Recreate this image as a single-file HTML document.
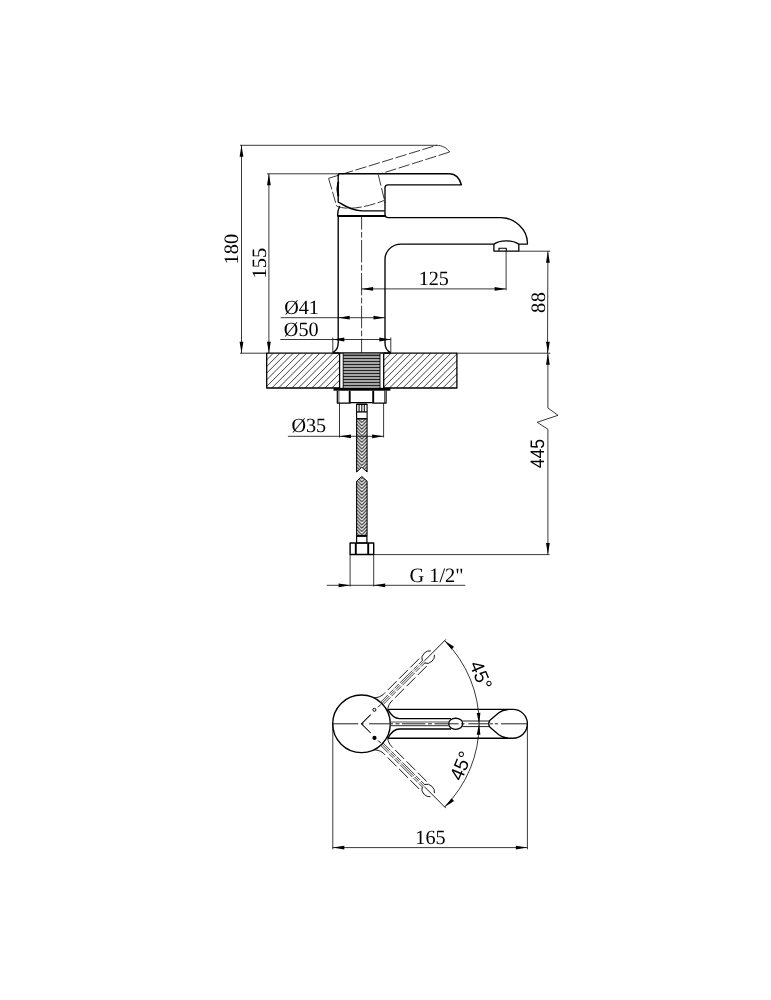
<!DOCTYPE html>
<html lang="en">
<head>
<meta charset="utf-8">
<title>Faucet dimensions drawing</title>
<style>
html,body{margin:0;padding:0;background:#fff;}
body{width:771px;height:1000px;overflow:hidden;}
svg{display:block;filter:blur(0.45px);}
text{text-rendering:geometricPrecision;}
</style>
</head>
<body>
<svg width="771" height="1000" viewBox="0 0 771 1000" fill="none" stroke="#000" stroke-linecap="butt" stroke-linejoin="round">
<defs>
<clipPath id="cl"><rect x="266.7" y="353.2" width="72.8" height="34.8"/></clipPath>
<clipPath id="cr"><rect x="383.8" y="353.2" width="73.1" height="34.8"/></clipPath>
<pattern id="braid" width="10.5" height="3.3" patternUnits="userSpaceOnUse" x="356.6" y="419"><rect x="0" y="0" width="10.5" height="3.3" fill="#222" stroke="none"/><path d="M0,-9.90 L5.25,-4.65 L10.5,-9.90 M0,-6.60 L5.25,-1.35 L10.5,-6.60 M0,-3.30 L5.25,1.95 L10.5,-3.30 M0,0.00 L5.25,5.25 L10.5,0.00 M0,3.30 L5.25,8.55 L10.5,3.30 M0,6.60 L5.25,11.85 L10.5,6.60 " stroke="#fff" stroke-width="1.25" fill="none" stroke-linejoin="miter"/></pattern>
</defs>
<line x1="240.00" y1="145.30" x2="437.00" y2="145.30" stroke-width="0.78" />
<line x1="267.00" y1="173.80" x2="338.20" y2="173.80" stroke-width="0.78" />
<line x1="240.00" y1="353.20" x2="266.70" y2="353.20" stroke-width="0.78" />
<line x1="241.50" y1="145.30" x2="241.50" y2="353.20" stroke-width="0.78" />
<line x1="268.90" y1="173.80" x2="268.90" y2="353.20" stroke-width="0.78" />
<polygon points="241.50,145.30 243.40,156.80 239.60,156.80" fill="#000" stroke="none"/>
<polygon points="241.50,353.20 239.60,341.70 243.40,341.70" fill="#000" stroke="none"/>
<polygon points="268.90,173.80 270.80,185.30 267.00,185.30" fill="#000" stroke="none"/>
<polygon points="268.90,353.20 267.00,341.70 270.80,341.70" fill="#000" stroke="none"/>
<text x="238.30" y="249.20" font-size="20.4" text-anchor="middle" font-family='"Liberation Serif", serif' fill="#000" stroke="none" transform="rotate(-90 238.30 249.20)" >180</text>
<text x="265.80" y="263.20" font-size="20.4" text-anchor="middle" font-family='"Liberation Serif", serif' fill="#000" stroke="none" transform="rotate(-90 265.80 263.20)" >155</text>
<path d="M328.6,178.3 L436.7,145.3" stroke-width="0.78" stroke-dasharray="11.5 2.5"/>
<path d="M436.7,145.3 C442,145.3 447,148 449.6,152" stroke-width="0.78" />
<path d="M449.6,152 L380.3,173.9" stroke-width="0.78" stroke-dasharray="11.5 2.5"/>
<path d="M378.2,174.5 L385.2,203" stroke-width="0.78" stroke-dasharray="11.5 2.5"/>
<path d="M328.6,178.3 L336.6,206" stroke-width="0.78" stroke-dasharray="11.5 2.5"/>
<path d="M336.6,206 C345,209.6 360,209.6 384.4,200.4" stroke-width="0.78" stroke-dasharray="11.5 2.5"/>
<path d="M338.2,173.7 L449.6,173.7 C455.5,173.7 459.5,178 461.4,184.8 L388,184.8 Q385,184.8 385,187.8 L385,214.6 Q385,217.6 388,217.6 L500.9,217.6 C514.6,217.6 527.4,229.6 527.4,242.8 L527.4,244.1 L518.8,244.1" stroke-width="1.35" />
<path d="M338.2,173.7 L338.2,202 C345,206 352,210.8 361.5,210.8 L384.6,210.8" stroke-width="1.35" />
<path d="M338.3,182 C337.3,186 337.3,192 338.3,196" stroke-width="2" />
<path d="M339.6,206 C338.3,209 337.6,212 337.6,216" stroke-width="1.35" />
<path d="M337.4,216 L385,216" stroke-width="2.0" />
<path d="M338.2,216 L338.2,343 C338.2,348 336,351 332.8,352.6" stroke-width="1.35" />
<path d="M493.9,244.1 L401,244.1 C392,244.1 385,251 385,259.5 L385,343 C385,348 387.2,351 390.6,352.6" stroke-width="1.35" />
<path d="M493.9,244.1 L493.9,251.1 L518.8,251.1 L518.8,244.1 M493.9,244.3 C499,239.6 513.5,239.6 518.8,244.3" stroke-width="1.3" />
<path d="M499,251.1 L499,248.3 L506.3,248.3 L506.3,251.1" stroke-width="1.1" />
<line x1="361.60" y1="216.70" x2="361.60" y2="352.60" stroke-width="0.78" stroke-dasharray="22.5 2.3 5.7 2.35" stroke-dashoffset="9.5"/>
<line x1="361.60" y1="288.90" x2="506.10" y2="288.90" stroke-width="0.78" />
<line x1="506.10" y1="251.10" x2="506.10" y2="290.30" stroke-width="0.78" />
<polygon points="361.60,288.90 373.10,287.00 373.10,290.80" fill="#000" stroke="none"/>
<polygon points="506.10,288.90 494.60,290.80 494.60,287.00" fill="#000" stroke="none"/>
<text x="433.80" y="285.40" font-size="20.2" text-anchor="middle" font-family='"Liberation Serif", serif' fill="#000" stroke="none" >125</text>
<line x1="518.80" y1="251.20" x2="550.30" y2="251.20" stroke-width="0.78" />
<line x1="456.90" y1="353.20" x2="550.30" y2="353.20" stroke-width="0.78" />
<line x1="547.90" y1="251.20" x2="547.50" y2="353.20" stroke-width="0.78" />
<polygon points="547.90,251.20 549.80,262.70 546.00,262.70" fill="#000" stroke="none"/>
<polygon points="547.90,353.20 546.00,341.70 549.80,341.70" fill="#000" stroke="none"/>
<text x="545.50" y="302.20" font-size="20.4" text-anchor="middle" font-family='"Liberation Serif", serif' fill="#000" stroke="none" transform="rotate(-90 545.50 302.20)" letter-spacing="0.6">88</text>
<path d="M547.9,353.2 L547.9,408 L558,415.3 L537.2,422.3 L547.9,429.2 L547.9,554.6" stroke-width="0.78" />
<polygon points="547.90,353.20 549.80,364.70 546.00,364.70" fill="#000" stroke="none"/>
<polygon points="547.90,554.60 546.00,543.10 549.80,543.10" fill="#000" stroke="none"/>
<line x1="373.70" y1="554.60" x2="549.50" y2="554.60" stroke-width="0.78" />
<text x="543.90" y="453.70" font-size="19.5" text-anchor="middle" font-family='"Liberation Sans", sans-serif' fill="#000" stroke="none" transform="rotate(-90 543.90 453.70)" textLength="29.3" lengthAdjust="spacingAndGlyphs">445</text>
<line x1="280.70" y1="317.70" x2="385.00" y2="317.70" stroke-width="0.78" />
<polygon points="338.20,317.70 349.70,315.80 349.70,319.60" fill="#000" stroke="none"/>
<polygon points="385.00,317.70 373.50,319.60 373.50,315.80" fill="#000" stroke="none"/>
<line x1="280.30" y1="339.50" x2="390.80" y2="339.50" stroke-width="0.78" />
<polygon points="332.80,339.50 344.30,337.60 344.30,341.40" fill="#000" stroke="none"/>
<polygon points="390.80,339.50 379.30,341.40 379.30,337.60" fill="#000" stroke="none"/>
<line x1="332.80" y1="337.50" x2="332.80" y2="352.50" stroke-width="0.78" />
<line x1="390.80" y1="337.50" x2="390.80" y2="352.50" stroke-width="0.78" />
<text x="284.20" y="314.30" font-size="20.2" text-anchor="start" font-family='"Liberation Serif", serif' fill="#000" stroke="none" >Ø41</text>
<text x="283.80" y="335.90" font-size="20.2" text-anchor="start" font-family='"Liberation Serif", serif' fill="#000" stroke="none" >Ø50</text>
<g clip-path="url(#cl)" stroke-width="0.75">
<line x1="259.98" y1="353.2" x2="225.18" y2="388"/>
<line x1="266.64" y1="353.2" x2="231.84" y2="388"/>
<line x1="273.30" y1="353.2" x2="238.50" y2="388"/>
<line x1="279.96" y1="353.2" x2="245.16" y2="388"/>
<line x1="286.62" y1="353.2" x2="251.82" y2="388"/>
<line x1="293.28" y1="353.2" x2="258.48" y2="388"/>
<line x1="299.94" y1="353.2" x2="265.14" y2="388"/>
<line x1="306.60" y1="353.2" x2="271.80" y2="388"/>
<line x1="313.26" y1="353.2" x2="278.46" y2="388"/>
<line x1="319.92" y1="353.2" x2="285.12" y2="388"/>
<line x1="326.58" y1="353.2" x2="291.78" y2="388"/>
<line x1="333.24" y1="353.2" x2="298.44" y2="388"/>
<line x1="339.90" y1="353.2" x2="305.10" y2="388"/>
<line x1="346.56" y1="353.2" x2="311.76" y2="388"/>
<line x1="353.22" y1="353.2" x2="318.42" y2="388"/>
<line x1="359.88" y1="353.2" x2="325.08" y2="388"/>
<line x1="366.54" y1="353.2" x2="331.74" y2="388"/>
<line x1="373.20" y1="353.2" x2="338.40" y2="388"/>
<line x1="379.86" y1="353.2" x2="345.06" y2="388"/>
</g>
<g clip-path="url(#cr)" stroke-width="0.75">
<line x1="384.34" y1="353.2" x2="349.54" y2="388"/>
<line x1="391.00" y1="353.2" x2="356.20" y2="388"/>
<line x1="397.66" y1="353.2" x2="362.86" y2="388"/>
<line x1="404.32" y1="353.2" x2="369.52" y2="388"/>
<line x1="410.98" y1="353.2" x2="376.18" y2="388"/>
<line x1="417.64" y1="353.2" x2="382.84" y2="388"/>
<line x1="424.30" y1="353.2" x2="389.50" y2="388"/>
<line x1="430.96" y1="353.2" x2="396.16" y2="388"/>
<line x1="437.62" y1="353.2" x2="402.82" y2="388"/>
<line x1="444.28" y1="353.2" x2="409.48" y2="388"/>
<line x1="450.94" y1="353.2" x2="416.14" y2="388"/>
<line x1="457.60" y1="353.2" x2="422.80" y2="388"/>
<line x1="464.26" y1="353.2" x2="429.46" y2="388"/>
<line x1="470.92" y1="353.2" x2="436.12" y2="388"/>
<line x1="477.58" y1="353.2" x2="442.78" y2="388"/>
<line x1="484.24" y1="353.2" x2="449.44" y2="388"/>
<line x1="490.90" y1="353.2" x2="456.10" y2="388"/>
</g>
<path d="M339.5,353.2 L266.7,353.2 L266.7,388 L339.5,388" stroke-width="1.3" />
<path d="M383.8,353.2 L456.9,353.2 L456.9,388 L383.8,388" stroke-width="1.3" />
<line x1="332.80" y1="353.00" x2="390.80" y2="353.00" stroke-width="1.6" />
<line x1="339.60" y1="353.20" x2="339.60" y2="388.00" stroke-width="1.3" />
<line x1="383.70" y1="353.20" x2="383.70" y2="388.00" stroke-width="1.3" />
<rect x="343.2" y="353.6" width="36.8" height="34.5" fill="#9a9a9a" stroke="none"/>
<line x1="343.20" y1="355.50" x2="380.00" y2="355.50" stroke-width="1.45" stroke="#222"/>
<line x1="343.20" y1="358.50" x2="380.00" y2="358.50" stroke-width="1.45" stroke="#222"/>
<line x1="343.20" y1="361.50" x2="380.00" y2="361.50" stroke-width="1.45" stroke="#222"/>
<line x1="343.20" y1="364.50" x2="380.00" y2="364.50" stroke-width="1.45" stroke="#222"/>
<line x1="343.20" y1="367.50" x2="380.00" y2="367.50" stroke-width="1.45" stroke="#222"/>
<line x1="343.20" y1="370.50" x2="380.00" y2="370.50" stroke-width="1.45" stroke="#222"/>
<line x1="343.20" y1="373.50" x2="380.00" y2="373.50" stroke-width="1.45" stroke="#222"/>
<line x1="343.20" y1="376.50" x2="380.00" y2="376.50" stroke-width="1.45" stroke="#222"/>
<line x1="343.20" y1="379.50" x2="380.00" y2="379.50" stroke-width="1.45" stroke="#222"/>
<line x1="343.20" y1="382.50" x2="380.00" y2="382.50" stroke-width="1.45" stroke="#222"/>
<line x1="343.20" y1="385.50" x2="380.00" y2="385.50" stroke-width="1.45" stroke="#222"/>
<line x1="343.20" y1="357.00" x2="380.00" y2="357.00" stroke-width="0.7" stroke="#f4f4f4"/>
<line x1="343.20" y1="360.00" x2="380.00" y2="360.00" stroke-width="0.7" stroke="#f4f4f4"/>
<line x1="343.20" y1="363.00" x2="380.00" y2="363.00" stroke-width="0.7" stroke="#f4f4f4"/>
<line x1="343.20" y1="366.00" x2="380.00" y2="366.00" stroke-width="0.7" stroke="#f4f4f4"/>
<line x1="343.20" y1="369.00" x2="380.00" y2="369.00" stroke-width="0.7" stroke="#f4f4f4"/>
<line x1="343.20" y1="372.00" x2="380.00" y2="372.00" stroke-width="0.7" stroke="#f4f4f4"/>
<line x1="343.20" y1="375.00" x2="380.00" y2="375.00" stroke-width="0.7" stroke="#f4f4f4"/>
<line x1="343.20" y1="378.00" x2="380.00" y2="378.00" stroke-width="0.7" stroke="#f4f4f4"/>
<line x1="343.20" y1="381.00" x2="380.00" y2="381.00" stroke-width="0.7" stroke="#f4f4f4"/>
<line x1="343.20" y1="384.00" x2="380.00" y2="384.00" stroke-width="0.7" stroke="#f4f4f4"/>
<line x1="343.20" y1="387.00" x2="380.00" y2="387.00" stroke-width="0.7" stroke="#f4f4f4"/>
<line x1="343.20" y1="353.20" x2="343.20" y2="388.00" stroke-width="0.9" />
<line x1="380.00" y1="353.20" x2="380.00" y2="388.00" stroke-width="0.9" />
<rect x="333.5" y="387.8" width="56.9" height="2.9" fill="#000" stroke="none"/>
<path d="M337.3,390.7 L337.3,403.1 L348,403.1 Q349.7,403.6 351.5,402.6 L371.5,402.6 Q373.2,403.6 375,403.1 L386.1,403.1 L386.1,390.7" stroke-width="1.2" />
<line x1="349.70" y1="390.70" x2="349.70" y2="403.20" stroke-width="1.9" />
<line x1="373.20" y1="390.70" x2="373.20" y2="403.20" stroke-width="1.9" />
<line x1="338.90" y1="390.70" x2="338.90" y2="403.00" stroke-width="0.7" />
<line x1="384.60" y1="390.70" x2="384.60" y2="403.00" stroke-width="0.7" />
<path d="M356.6,404.2 L367.1,404.2 L367.1,419 L356.6,419 Z" stroke-width="1.1" />
<line x1="356.60" y1="404.30" x2="367.10" y2="404.30" stroke-width="1.5" />
<line x1="356.60" y1="411.90" x2="367.10" y2="411.90" stroke-width="1.3" />
<line x1="359.10" y1="404.30" x2="359.10" y2="411.90" stroke-width="1.0" />
<line x1="361.80" y1="404.30" x2="361.80" y2="411.90" stroke-width="1.0" />
<line x1="364.30" y1="404.30" x2="364.30" y2="411.90" stroke-width="1.0" />
<line x1="356.60" y1="418.80" x2="367.10" y2="418.80" stroke-width="1.2" />
<path d="M356.6,419 L367.1,419 L367.1,472 L361.8,467.2 L356.6,472 Z" fill="url(#braid)" stroke="#000" stroke-width="1.0"/>
<path d="M356.6,535.8 L356.6,481.2 L361.8,476.5 L367.1,481.2 L367.1,535.8 Z" fill="url(#braid)" stroke="#000" stroke-width="1.0"/>
<path d="M356.6,536.0 L366.9,536.0 L366.9,543 L356.6,543 Z" stroke-width="1.2" />
<line x1="356.60" y1="535.90" x2="366.90" y2="535.90" stroke-width="1.7" />
<path d="M350.1,543 L373.7,543 L373.7,554.5 L350.1,554.5 Z" stroke-width="1.4" />
<line x1="355.80" y1="543.00" x2="355.80" y2="554.50" stroke-width="1.9" />
<line x1="368.20" y1="543.00" x2="368.20" y2="554.50" stroke-width="1.9" />
<line x1="287.90" y1="436.30" x2="383.60" y2="436.30" stroke-width="0.78" />
<line x1="339.50" y1="403.00" x2="339.50" y2="437.50" stroke-width="0.78" />
<line x1="383.60" y1="403.00" x2="383.60" y2="437.50" stroke-width="0.78" />
<polygon points="339.50,436.30 351.00,434.40 351.00,438.20" fill="#000" stroke="none"/>
<polygon points="383.60,436.30 372.10,438.20 372.10,434.40" fill="#000" stroke="none"/>
<text x="291.40" y="432.30" font-size="20.2" text-anchor="start" font-family='"Liberation Serif", serif' fill="#000" stroke="none" >Ø35</text>
<line x1="326.80" y1="585.30" x2="465.30" y2="585.30" stroke-width="0.78" />
<line x1="350.10" y1="554.50" x2="350.10" y2="586.50" stroke-width="0.78" />
<line x1="373.70" y1="554.50" x2="373.70" y2="586.50" stroke-width="0.78" />
<polygon points="350.10,585.30 338.60,587.20 338.60,583.40" fill="#000" stroke="none"/>
<polygon points="373.70,585.30 385.20,583.40 385.20,587.20" fill="#000" stroke="none"/>
<text x="409.40" y="581.80" font-size="20.4" text-anchor="start" font-family='"Liberation Serif", serif' fill="#000" stroke="none" >G 1/2"</text>
<circle cx="361.5" cy="723.8" r="28.8" stroke-width="1.35"/>
<path d="M388.0,709.4 L513,709.4 A14.4,14.4 0 0 1 513,738.2 L388.0,738.2" stroke-width="1.35" />
<path d="M508,709.5 C503.5,709.8 501.5,710.6 498.8,712.8 L489.7,720.6 Q487.7,723.8 489.7,727 L498.8,734.8 C501.5,737 503.5,737.8 508,738.1" stroke-width="1.3" />
<g >
<path d="M388.0,709.6 C390.5,714.2 393.5,718.6 399.5,718.6 L451,718.6" stroke-width="1.35" />
<path d="M388.0,738.0 C390.5,733.4 393.5,729.0 399.5,729.0 L451,729.0" stroke-width="1.35" />
</g>
<ellipse cx="455.7" cy="723.8" rx="7.1" ry="5.6" stroke-width="1.35"/>
<line x1="391.00" y1="722.00" x2="449.00" y2="722.00" stroke-width="1.15" stroke="#555"/>
<line x1="391.00" y1="725.60" x2="449.00" y2="725.60" stroke-width="1.15" stroke="#555"/>
<line x1="462.40" y1="721.00" x2="489.20" y2="721.00" stroke-width="1.0" stroke="#222"/>
<line x1="462.40" y1="726.60" x2="489.20" y2="726.60" stroke-width="1.0" stroke="#222"/>
<line x1="332.80" y1="723.80" x2="358.20" y2="723.80" stroke-width="1.0" stroke="#222"/>
<line x1="361.00" y1="723.80" x2="363.60" y2="723.80" stroke-width="1.0" stroke="#222"/>
<line x1="369.10" y1="723.80" x2="393.00" y2="723.80" stroke-width="1.0" stroke="#222"/>
<line x1="395.50" y1="723.80" x2="399.50" y2="723.80" stroke-width="1.0" stroke="#222"/>
<line x1="402.00" y1="723.80" x2="425.40" y2="723.80" stroke-width="1.0" stroke="#222"/>
<line x1="428.00" y1="723.80" x2="431.90" y2="723.80" stroke-width="1.0" stroke="#222"/>
<line x1="434.50" y1="723.80" x2="458.60" y2="723.80" stroke-width="1.0" stroke="#222"/>
<line x1="461.00" y1="723.80" x2="464.50" y2="723.80" stroke-width="1.0" stroke="#222"/>
<line x1="468.30" y1="723.80" x2="488.20" y2="723.80" stroke-width="1.0" stroke="#222"/>
<line x1="490.00" y1="723.80" x2="492.90" y2="723.80" stroke-width="1.0" stroke="#222"/>
<line x1="494.80" y1="723.80" x2="498.10" y2="723.80" stroke-width="1.0" stroke="#222"/>
<line x1="501.00" y1="723.80" x2="527.00" y2="723.80" stroke-width="1.0" stroke="#222"/>
<g transform="rotate(-45 361.5 723.8)">
<path d="M389.00,714.30 C391.50,716.80 394.50,718.50 399.50,718.50 L451.00,718.50" stroke-width="0.88" stroke-dasharray="12.5 3.5"/>
<path d="M389.00,733.30 C391.50,730.80 394.50,729.10 399.50,729.10 L451.00,729.10" stroke-width="0.88" stroke-dasharray="12.5 3.5"/>
<line x1="390.00" y1="722.10" x2="400.70" y2="722.10" stroke-width="0.8" stroke="#222"/>
<line x1="390.00" y1="723.80" x2="400.70" y2="723.80" stroke-width="0.8" stroke="#222"/>
<line x1="390.00" y1="725.50" x2="400.70" y2="725.50" stroke-width="0.8" stroke="#222"/>
<line x1="402.30" y1="722.10" x2="408.50" y2="722.10" stroke-width="0.8" stroke="#222"/>
<line x1="402.30" y1="723.80" x2="408.50" y2="723.80" stroke-width="0.8" stroke="#222"/>
<line x1="402.30" y1="725.50" x2="408.50" y2="725.50" stroke-width="0.8" stroke="#222"/>
<line x1="409.90" y1="722.10" x2="416.10" y2="722.10" stroke-width="0.8" stroke="#222"/>
<line x1="409.90" y1="723.80" x2="416.10" y2="723.80" stroke-width="0.8" stroke="#222"/>
<line x1="409.90" y1="725.50" x2="416.10" y2="725.50" stroke-width="0.8" stroke="#222"/>
<line x1="417.70" y1="722.10" x2="435.20" y2="722.10" stroke-width="0.8" stroke="#222"/>
<line x1="417.70" y1="723.80" x2="435.20" y2="723.80" stroke-width="0.8" stroke="#222"/>
<line x1="417.70" y1="725.50" x2="435.20" y2="725.50" stroke-width="0.8" stroke="#222"/>
<line x1="436.70" y1="722.10" x2="442.50" y2="722.10" stroke-width="0.8" stroke="#222"/>
<line x1="436.70" y1="723.80" x2="442.50" y2="723.80" stroke-width="0.8" stroke="#222"/>
<line x1="436.70" y1="725.50" x2="442.50" y2="725.50" stroke-width="0.8" stroke="#222"/>
<line x1="444.10" y1="722.10" x2="449.80" y2="722.10" stroke-width="0.8" stroke="#222"/>
<line x1="444.10" y1="723.80" x2="449.80" y2="723.80" stroke-width="0.8" stroke="#222"/>
<line x1="444.10" y1="725.50" x2="449.80" y2="725.50" stroke-width="0.8" stroke="#222"/>
<ellipse cx="455.8" cy="723.8" rx="7" ry="5.6" stroke-width="0.85" stroke-dasharray="15 3.5" stroke-dashoffset="-3"/>
<line x1="361.50" y1="723.80" x2="374.50" y2="723.80" stroke-width="0.95" />
<line x1="385.00" y1="723.80" x2="389.00" y2="723.80" stroke-width="0.9" />
<line x1="450.50" y1="723.80" x2="480.80" y2="723.80" stroke-width="0.85" />
</g>
<g transform="rotate(45 361.5 723.8)">
<path d="M389.00,714.30 C391.50,716.80 394.50,718.50 399.50,718.50 L451.00,718.50" stroke-width="0.88" stroke-dasharray="12.5 3.5"/>
<path d="M389.00,733.30 C391.50,730.80 394.50,729.10 399.50,729.10 L451.00,729.10" stroke-width="0.88" stroke-dasharray="12.5 3.5"/>
<line x1="390.00" y1="722.10" x2="400.70" y2="722.10" stroke-width="0.8" stroke="#222"/>
<line x1="390.00" y1="723.80" x2="400.70" y2="723.80" stroke-width="0.8" stroke="#222"/>
<line x1="390.00" y1="725.50" x2="400.70" y2="725.50" stroke-width="0.8" stroke="#222"/>
<line x1="402.30" y1="722.10" x2="408.50" y2="722.10" stroke-width="0.8" stroke="#222"/>
<line x1="402.30" y1="723.80" x2="408.50" y2="723.80" stroke-width="0.8" stroke="#222"/>
<line x1="402.30" y1="725.50" x2="408.50" y2="725.50" stroke-width="0.8" stroke="#222"/>
<line x1="409.90" y1="722.10" x2="416.10" y2="722.10" stroke-width="0.8" stroke="#222"/>
<line x1="409.90" y1="723.80" x2="416.10" y2="723.80" stroke-width="0.8" stroke="#222"/>
<line x1="409.90" y1="725.50" x2="416.10" y2="725.50" stroke-width="0.8" stroke="#222"/>
<line x1="417.70" y1="722.10" x2="435.20" y2="722.10" stroke-width="0.8" stroke="#222"/>
<line x1="417.70" y1="723.80" x2="435.20" y2="723.80" stroke-width="0.8" stroke="#222"/>
<line x1="417.70" y1="725.50" x2="435.20" y2="725.50" stroke-width="0.8" stroke="#222"/>
<line x1="436.70" y1="722.10" x2="442.50" y2="722.10" stroke-width="0.8" stroke="#222"/>
<line x1="436.70" y1="723.80" x2="442.50" y2="723.80" stroke-width="0.8" stroke="#222"/>
<line x1="436.70" y1="725.50" x2="442.50" y2="725.50" stroke-width="0.8" stroke="#222"/>
<line x1="444.10" y1="722.10" x2="449.80" y2="722.10" stroke-width="0.8" stroke="#222"/>
<line x1="444.10" y1="723.80" x2="449.80" y2="723.80" stroke-width="0.8" stroke="#222"/>
<line x1="444.10" y1="725.50" x2="449.80" y2="725.50" stroke-width="0.8" stroke="#222"/>
<ellipse cx="455.8" cy="723.8" rx="7" ry="5.6" stroke-width="0.85" stroke-dasharray="15 3.5" stroke-dashoffset="-3"/>
<line x1="361.50" y1="723.80" x2="374.50" y2="723.80" stroke-width="0.95" />
<line x1="385.00" y1="723.80" x2="389.00" y2="723.80" stroke-width="0.9" />
<line x1="450.50" y1="723.80" x2="480.80" y2="723.80" stroke-width="0.85" />
</g>
<circle cx="374.4" cy="709.8" r="1.5" stroke-width="1.0" fill="#fff"/>
<circle cx="374.5" cy="737.9" r="2.1" fill="#000" stroke="none"/>
<path d="M444.66,640.64 A117.6,117.6 0 0 1 444.66,806.96" stroke-width="0.78" />
<polygon points="444.66,640.64 454.04,646.68 451.55,649.42" fill="#000" stroke="none"/>
<polygon points="444.66,806.96 451.55,798.18 454.04,800.92" fill="#000" stroke="none"/>
<polygon points="479.10,723.80 476.73,712.90 480.43,712.73" fill="#000" stroke="none"/>
<polygon points="479.10,723.80 480.43,734.87 476.73,734.70" fill="#000" stroke="none"/>
<text x="474.81" y="677.79" font-size="19.3" text-anchor="middle" font-family='"Liberation Sans", sans-serif' fill="#000" stroke="none" transform="rotate(67.5 474.81 677.79)" >45°</text>
<text x="467.07" y="768.39" font-size="19.3" text-anchor="middle" font-family='"Liberation Sans", sans-serif' fill="#000" stroke="none" transform="rotate(-67.5 467.07 768.39)" >45°</text>
<line x1="332.80" y1="723.80" x2="332.80" y2="849.30" stroke-width="0.78" />
<line x1="527.40" y1="723.80" x2="527.40" y2="849.30" stroke-width="0.78" />
<line x1="332.80" y1="847.60" x2="527.40" y2="847.60" stroke-width="0.78" />
<polygon points="332.80,847.60 344.30,845.70 344.30,849.50" fill="#000" stroke="none"/>
<polygon points="527.40,847.60 515.90,849.50 515.90,845.70" fill="#000" stroke="none"/>
<text x="430.50" y="843.70" font-size="20.2" text-anchor="middle" font-family='"Liberation Serif", serif' fill="#000" stroke="none" >165</text>
</svg>
</body>
</html>
